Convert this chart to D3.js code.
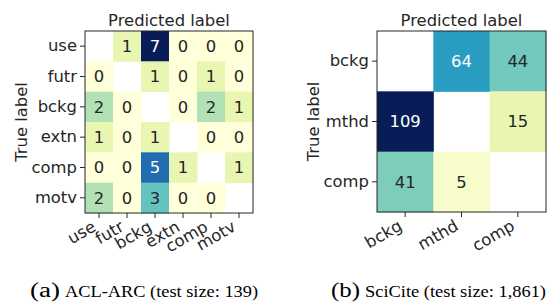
<!DOCTYPE html>
<html><head><meta charset="utf-8">
<script src="https://cdn.jsdelivr.net/npm/d3@7"></script>
<style>
html,body{margin:0;padding:0;background:#fff;}
svg{display:block;}
text{font-family:"DejaVu Sans",sans-serif;}
</style>
</head><body>
<svg id="chart" width="549" height="304"></svg>
<script>
// ---- data ----
const aclLabels = ["use", "futr", "bckg", "extn", "comp", "motv"];
const aclValues = [
  [null, 1, 7, 0, 0, 0],
  [0, null, 1, 0, 1, 0],
  [2, 0, null, 0, 2, 1],
  [1, 0, 1, null, 0, 0],
  [0, 0, 5, 1, null, 1],
  [2, 0, 3, 0, 0, null]
];
const sciLabels = ["bckg", "mthd", "comp"];
const sciValues = [
  [null, 64, 44],
  [109, null, 15],
  [41, 5, null]
];
const xTitle = "Predicted label";
const yTitle = "True label";
const captionA = ["(a)", "ACL-ARC (test size: 139)"];
const captionB = ["(b)", "SciCite (test size: 1,861)"];

// matplotlib YlGnBu anchors
const ylgnbu = ["#ffffd9","#edf8b1","#c7e9b4","#7fcdbb","#41b6c4","#1d91c0","#225ea8","#253494","#081d58"];
const cmapInterp = d3.scaleLinear()
  .domain(d3.range(ylgnbu.length).map(i => i / (ylgnbu.length - 1)))
  .range(ylgnbu).interpolate(d3.interpolateRgb);

function lum(c) {
  const r = d3.rgb(c);
  const f = v => { v /= 255; return v <= 0.03928 ? v / 12.92 : Math.pow((v + 0.055) / 1.055, 2.4); };
  return 0.2126 * f(r.r) + 0.7152 * f(r.g) + 0.0722 * f(r.b);
}

const svg = d3.select("#chart");
const FS = 16.4;

function drawMatrix(opts) {
  const {labels, values, x0, y0, w, h, ylabX, caption, capX, capW, capTextX, capTextW} = opts;
  const g = svg.append("g");
  const x = d3.scaleBand().domain(labels).range([x0, x0 + w]).padding(0);
  const y = d3.scaleBand().domain(labels).range([y0, y0 + h]).padding(0);
  const vmax = d3.max(values.flat().filter(v => v != null));
  const color = d3.scaleLinear().domain([0, vmax]).range([0, 1]).clamp(true);

  const cells = [];
  values.forEach((row, i) => row.forEach((v, j) => cells.push({r: labels[i], c: labels[j], v})));

  g.selectAll("rect.cell").data(cells.filter(d => d.v != null)).join("rect")
    .attr("class", "cell")
    .attr("x", d => x(d.c)).attr("y", d => y(d.r))
    .attr("width", x.bandwidth() + 0.5).attr("height", y.bandwidth() + 0.5)
    .attr("fill", d => cmapInterp(color(d.v)));

  g.selectAll("text.val").data(cells.filter(d => d.v != null)).join("text")
    .attr("class", "val")
    .attr("x", d => x(d.c) + x.bandwidth() / 2)
    .attr("y", d => y(d.r) + y.bandwidth() / 2)
    .attr("dy", "0.36em")
    .attr("text-anchor", "middle")
    .attr("font-size", FS)
    .attr("fill", d => lum(cmapInterp(color(d.v))) < 0.408 ? "#ffffff" : "#262626")
    .text(d => d.v);

  // frame
  g.append("rect").attr("x", x0).attr("y", y0).attr("width", w).attr("height", h)
    .attr("fill", "none").attr("stroke", "#262626").attr("stroke-width", 1);

  // y axis
  const ya = g.append("g").attr("transform", `translate(${x0},0)`)
    .call(d3.axisLeft(y).tickSize(5).tickPadding(3));
  ya.select(".domain").remove();
  ya.selectAll("line").attr("stroke", "#262626");
  ya.selectAll("text").attr("font-size", FS).attr("fill", "#262626")
    .attr("font-family", "DejaVu Sans");

  // x axis (bottom), rotated labels
  const xa = g.append("g").attr("transform", `translate(0,${y0 + h})`)
    .call(d3.axisBottom(x).tickSize(5).tickPadding(3));
  xa.select(".domain").remove();
  xa.selectAll("line").attr("stroke", "#262626");
  xa.selectAll("text")
    .attr("font-size", FS).attr("fill", "#262626").attr("font-family", "DejaVu Sans")
    .attr("text-anchor", "end")
    .attr("dy", null)
    .attr("y", null)
    .attr("transform", "translate(-2,17) rotate(-30)");

  // titles
  g.append("text").attr("x", x0 + w / 2).attr("y", y0 - 5)
    .attr("text-anchor", "middle").attr("font-size", FS).attr("fill", "#262626")
    .text(xTitle);
  g.append("text")
    .attr("transform", `translate(${ylabX},${y0 + h / 2}) rotate(-90)`)
    .attr("text-anchor", "middle").attr("font-size", FS).attr("fill", "#262626")
    .text(yTitle);

  // caption
  g.append("text").attr("x", capX).attr("y", 297)
    .style("font-family", "'Liberation Serif', serif").attr("font-size", 20).attr("fill", "#000")
    .attr("textLength", capW).attr("lengthAdjust", "spacingAndGlyphs")
    .text(caption[0]);
  g.append("text").attr("x", capTextX).attr("y", 297)
    .style("font-family", "'Liberation Serif', serif").attr("font-size", 16.5).attr("fill", "#000")
    .attr("textLength", capTextW).attr("lengthAdjust", "spacingAndGlyphs")
    .text(caption[1]);
}

drawMatrix({labels: aclLabels, values: aclValues, x0: 85, y0: 31, w: 168, h: 182, ylabX: 27,
  caption: captionA, capX: 30, capW: 30, capTextX: 65, capTextW: 193});
drawMatrix({labels: sciLabels, values: sciValues, x0: 377, y0: 31, w: 169, h: 181, ylabX: 319,
  caption: captionB, capX: 331, capW: 29, capTextX: 365, capTextW: 181});
</script>
</body></html>
